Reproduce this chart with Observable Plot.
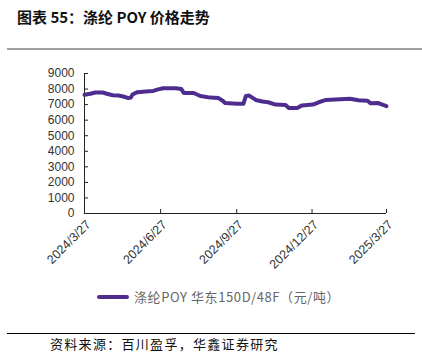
<!DOCTYPE html>
<html>
<head>
<meta charset="utf-8">
<script src="https://cdn.jsdelivr.net/npm/d3@7"></script>
<script src="https://cdn.jsdelivr.net/npm/@observablehq/plot@0.6"></script>
<style>
  html, body { margin: 0; padding: 0; background: #fff; }
  #wrap { position: relative; width: 422px; height: 353px; overflow: hidden; background: #fff; }
  #title { position: absolute; left: 17px; top: 6px; font-family: "Noto Sans CJK SC", sans-serif; font-weight: bold; font-size: 15px; color: #111; white-space: nowrap; }
  #topline { position: absolute; left: 7px; top: 48px; width: 415px; height: 2px; background: #a0a0a0; }
  #chart { position: absolute; left: 0; top: 55px; }
  #legend { position: absolute; left: 97px; top: 287px; display: flex; align-items: center; white-space: nowrap; font-family: "Noto Sans CJK SC", sans-serif; font-size: 13px; letter-spacing: 0.6px; color: #666; }
  #legend .sw { width: 32px; height: 4px; background: #4F2D8F; margin-right: 5px; border-radius: 2px; }
  #botline { position: absolute; left: 7px; top: 333px; width: 408px; height: 1px; background: #000; }
  #source { position: absolute; left: 50px; top: 337px; line-height: 14px; height: 14px; font-family: "Noto Sans CJK SC", sans-serif; font-size: 13px; letter-spacing: 1.3px; color: #111; white-space: nowrap; }
</style>
</head>
<body>
<div id="wrap">
  <div id="title">图表 55：涤纶 POY 价格走势</div>
  <div id="topline"></div>
  <div id="chart"></div>
  <div id="legend"><div class="sw"></div><span>涤纶POY 华东150D/48F（元/吨）</span></div>
  <div id="botline"></div>
  <div id="source">资料来源：百川盈孚，华鑫证券研究</div>
</div>
<script>
const dates = ["2024-03-27","2024-04-03","2024-04-09","2024-04-18","2024-04-23","2024-04-30","2024-05-07","2024-05-13","2024-05-19","2024-05-22","2024-05-24","2024-05-30","2024-06-09","2024-06-18","2024-06-24","2024-06-30","2024-07-15","2024-07-22","2024-07-25","2024-08-06","2024-08-14","2024-08-26","2024-09-05","2024-09-10","2024-09-13","2024-09-27","2024-10-05","2024-10-08","2024-10-12","2024-10-20","2024-10-28","2024-11-04","2024-11-13","2024-11-25","2024-11-29","2024-12-09","2024-12-15","2024-12-28","2025-01-04","2025-01-13","2025-01-30","2025-02-11","2025-02-21","2025-03-04","2025-03-08","2025-03-17","2025-03-27"];
const prices = [7630,7700,7780,7780,7700,7600,7580,7520,7420,7450,7650,7800,7850,7880,7980,8050,8050,8000,7750,7750,7550,7450,7420,7250,7100,7050,7050,7550,7580,7300,7200,7150,7000,6980,6780,6780,6950,7000,7150,7300,7350,7380,7280,7250,7080,7100,6900];
const xTickDates = ["2024-03-27","2024-06-27","2024-09-27","2024-12-27","2025-03-27"];
const xTickLabels = ["2024/3/27","2024/6/27","2024/9/27","2024/12/27","2025/3/27"];
const yTicks = [0,1000,2000,3000,4000,5000,6000,7000,8000,9000];

const data = dates.map((d, i) => ({date: new Date(d), price: prices[i]}));
const xt = xTickDates.map(d => new Date(d));
const labelMap = new Map(xt.map((d, i) => [+d, xTickLabels[i]]));

const chart = Plot.plot({
  width: 422,
  height: 230,
  marginLeft: 84,
  marginRight: 36,
  marginTop: 18,
  marginBottom: 72,
  x: {type: "utc", domain: [xt[0], xt[xt.length - 1]], label: null},
  y: {domain: [0, 9000], label: null},
  style: {fontFamily: "'Liberation Sans', Arial, sans-serif", fontSize: "12px", color: "#333", background: "#fff"},
  marks: [
    Plot.axisY(yTicks, {tickSize: 0, tickPadding: 10, fontSize: 12, fill: "#333", tickFormat: d => String(d)}),
    Plot.axisX(xt, {tickSize: 0, tickPadding: 9, dx: 4, tickRotate: -45, fontSize: 12.5, fill: "#333", tickFormat: d => labelMap.get(+d)}),
    Plot.tickY(yTicks, {y: d => d, insetRight: 298, stroke: "#222"}),
    Plot.tickX(xt, {x: d => d, insetTop: 136, stroke: "#222"}),
    Plot.ruleX([xt[0]], {stroke: "#222"}),
    Plot.ruleY([0], {stroke: "#222"}),
    Plot.line(data, {x: "date", y: "price", stroke: "#4F2D8F", strokeWidth: 4, strokeLinejoin: "round", strokeLinecap: "round"})
  ]
});
document.getElementById("chart").appendChild(chart);
</script>
</body>
</html>
